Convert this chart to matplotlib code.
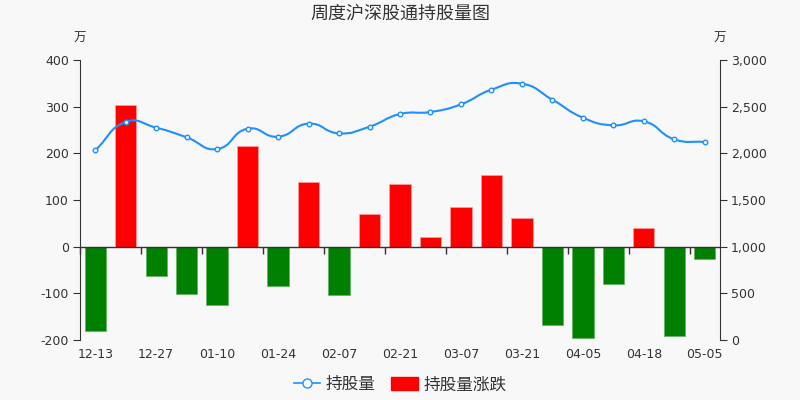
import numpy as np
import matplotlib.pyplot as plt
from matplotlib.path import Path
from matplotlib.patches import PathPatch, Patch
from matplotlib.lines import Line2D
from matplotlib.ticker import FuncFormatter

plt.rcParams['font.family'] = ['Noto Sans CJK SC', 'DejaVu Sans']
plt.rcParams['axes.unicode_minus'] = False

# === DATA ===
dates = ["12-13", "12-20", "12-27", "01-03", "01-10", "01-17", "01-24",
         "01-31", "02-07", "02-14", "02-21", "02-28", "03-07", "03-14",
         "03-21", "03-28", "04-05", "04-11", "04-18", "04-25", "05-05"]
holding = [2032, 2336, 2275, 2171, 2046, 2264, 2178, 2318, 2214, 2286, 2421,
           2443, 2525, 2682, 2746, 2575, 2382, 2300, 2343, 2150, 2121]
change = [-180, 303, -63, -102, -124, 215, -85, 138, -103, 69, 135,
          20, 84, 154, 62, -167, -196, -80, 39, -192, -26]

BG = '#f8f8f8'
TXT = '#333333'
BLUE = '#1e90ff'


def smooth_path(xs, ys, smooth=0.5, sx=1.0, sy=1.0):
    # echarts-like bezier smoothing (ratios computed in pixel-ish space)
    pts = np.column_stack([xs, ys]).astype(float)
    n = len(pts)
    scale = np.array([sx, sy])
    cp_prev = [None] * n
    cp_next = [None] * n
    for i in range(n):
        prev = pts[max(i - 1, 0)]
        nxt = pts[min(i + 1, n - 1)]
        cur = pts[i]
        v = nxt - prev
        d0 = np.linalg.norm((cur - prev) * scale)
        d1 = np.linalg.norm((nxt - cur) * scale)
        r = d1 / (d0 + d1) if (d0 + d1) > 0 else 0.5
        cp_next[i] = cur + v * smooth * r
        cp_prev[i] = cur - v * smooth * (1 - r)
    verts = [pts[0]]
    codes = [Path.MOVETO]
    for i in range(n - 1):
        verts += [cp_next[i], cp_prev[i + 1], pts[i + 1]]
        codes += [Path.CURVE4] * 3
    return Path(verts, codes)


fig = plt.figure(figsize=(8, 4), dpi=100, facecolor=BG)
ax = fig.add_axes([0.1, 0.15, 0.8, 0.7], facecolor=BG)
ax2 = ax.twinx()

x = np.arange(len(dates))
colors = ['#ff0000' if v >= 0 else '#008000' for v in change]
edges = ['#ff9999' if v >= 0 else '#66b366' for v in change]
ax.bar(x, change, width=0.7, color=colors, edgecolor=edges, linewidth=0.6, zorder=2)

ax.set_xlim(-0.5, len(dates) - 0.5)
ax.set_ylim(-200, 400)
ax.set_yticks([-200, -100, 0, 100, 200, 300, 400])
ax2.set_ylim(0, 3000)
ax2.set_yticks([0, 500, 1000, 1500, 2000, 2500, 3000])
ax2.yaxis.set_major_formatter(FuncFormatter(lambda v, p: f"{int(v):,}"))

# zero line with ticks at every other category boundary
ax.axhline(0, color=TXT, lw=1, zorder=3)
bounds = np.arange(-0.5, len(dates), 2)
ax.plot(bounds, np.zeros_like(bounds), ls='none', marker=3, ms=5,
        mew=1, color=TXT, zorder=3, clip_on=False)

ax.set_xticks(x[::2])
ax.set_xticklabels(dates[::2])
ax.tick_params(axis='x', length=0, pad=6, labelsize=9, labelcolor=TXT)
ax.tick_params(axis='y', length=5, color=TXT, labelsize=9, labelcolor=TXT, pad=3)
ax2.tick_params(axis='y', length=5, color=TXT, labelsize=9, labelcolor=TXT, pad=3)
for lab in ax.get_xticklabels() + ax.get_yticklabels() + ax2.get_yticklabels():
    lab.set_family('DejaVu Sans')

for a in (ax, ax2):
    a.spines['top'].set_visible(False)
    a.spines['bottom'].set_visible(False)
ax.spines['right'].set_visible(False)
ax.spines['left'].set_color(TXT)
ax2.spines['left'].set_visible(False)
ax2.spines['right'].set_color(TXT)

# smoothed holding line
sx = 640 / len(dates)
sy = 280 / 3000
path = smooth_path(x, holding, smooth=0.5, sx=sx, sy=sy)
ax2.add_patch(PathPatch(path, fill=False, edgecolor=BLUE, lw=1.5, zorder=4))
ax2.plot(x, holding, ls='none', marker='o', ms=3.3, mfc='white', mec=BLUE,
         mew=1, zorder=5)

fig.text(0.1, 0.905, "万", ha='center', va='center', fontsize=9, color=TXT)
fig.text(0.9, 0.905, "万", ha='center', va='center', fontsize=9, color=TXT)
fig.text(0.5, 0.965, "周度沪深股通持股量图", ha='center', va='center',
         fontsize=13, color=TXT)

handles = [
    Line2D([0], [0], color=BLUE, lw=1.2, marker='o', ms=6.5, mfc='white', mec=BLUE),
    Patch(facecolor='#ff0000', edgecolor='#ff0000'),
]
fig.legend(handles, ["持股量", "持股量涨跌"], loc='center', ncol=2,
           bbox_to_anchor=(0.5, 0.038), frameon=False, fontsize=12,
           handlelength=1.6, handleheight=0.8, handletextpad=0.35, columnspacing=0.9,
           labelcolor=TXT)

fig.savefig("out.png", dpi=100, facecolor=BG)
